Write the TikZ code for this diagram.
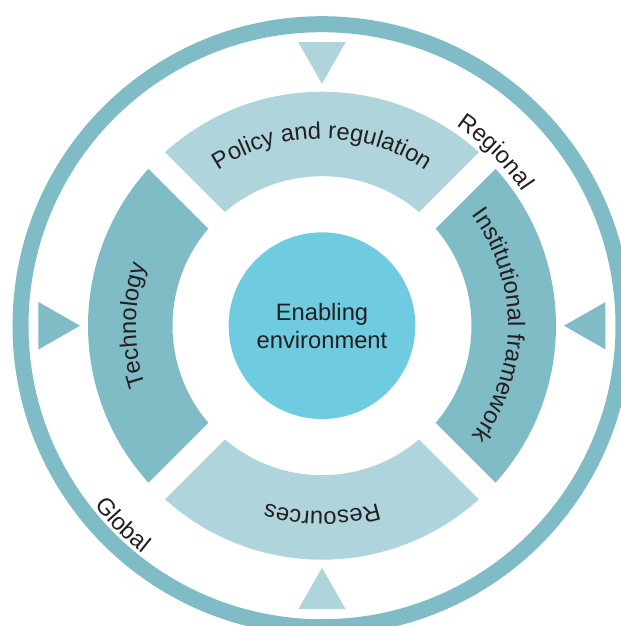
\documentclass[tikz,border=0pt]{standalone}
\usepackage{fontspec}
\setmainfont{Liberation Sans}
\usetikzlibrary{decorations.text}

\definecolor{ringteal}{HTML}{7FBCC5}
\definecolor{paleteal}{HTML}{AFD4DC}
\definecolor{coreblue}{HTML}{6FCCE0}
\definecolor{labelgray}{HTML}{231F20}
\newcommand{\labelfont}{\fontsize{17.8}{21.2}\selectfont}

\tikzset{
  arclabel/.style={decorate, decoration={text along path, text align=center,
      text={|\color{labelgray}\labelfont|#1}}},
  corecircle/.style={circle, fill=coreblue, minimum size=140pt, inner sep=0pt,
      align=center, text=labelgray, font=\labelfont},
}

\begin{document}
\begin{tikzpicture}[x=0.75pt,y=0.75pt]
	\useasboundingbox (-322,-300.3) rectangle (299,325.7);
	\clip (-322,-300.3) rectangle (299,325.7);

	% outer ring
	\draw[ringteal, line width=12pt] (0,0) circle[radius=301.5];

	% triangles in the ring
	\fill[paleteal] (-23.7,283.5) -- (23.7,283.5) -- (0,242) -- cycle;
	\fill[paleteal] (-23.7,-283.5) -- (23.7,-283.5) -- (0,-242) -- cycle;
	\fill[ringteal] (-283.5,-23.7) -- (-283.5,23.7) -- (-242,0) -- cycle;
	\fill[ringteal] (283.5,-23.7) -- (283.5,23.7) -- (242,0) -- cycle;

	% the four segments
	\fill[paleteal] (132.11:234) arc[start angle=132.11, end angle=47.89, radius=234]
		-- (49.53:149.5) arc[start angle=49.53, end angle=130.47, radius=149.5] -- cycle;
	\fill[ringteal] (222.11:234) arc[start angle=222.11, end angle=137.89, radius=234]
		-- (139.53:149.5) arc[start angle=139.53, end angle=220.47, radius=149.5] -- cycle;
	\fill[paleteal] (312.11:234) arc[start angle=312.11, end angle=227.89, radius=234]
		-- (229.53:149.5) arc[start angle=229.53, end angle=310.47, radius=149.5] -- cycle;
	\fill[ringteal] (42.11:234) arc[start angle=42.11, end angle=-42.11, radius=234]
		-- (-40.47:149.5) arc[start angle=-40.47, end angle=40.47, radius=149.5] -- cycle;

	% segment labels
	\path[arclabel={Policy and regulation}] (160:187) arc[start angle=160, end angle=20, radius=187];
	\path[arclabel={Technology}] (250:186) arc[start angle=250, end angle=110, radius=186];
	\path[arclabel={Resources}] (340:186) arc[start angle=340, end angle=200, radius=186];
	\path[arclabel={Institutional framework}] (70:186) arc[start angle=70, end angle=-70, radius=186];

	% levels
	\path[arclabel={Regional}] (80:241) arc[start angle=80, end angle=10, radius=241];
	\path[arclabel={Global}] (195:290) arc[start angle=195, end angle=255, radius=290];

	% centre
	\node[corecircle] (enabling) at (0,0) {Enabling\\environment};
\end{tikzpicture}
\end{document}
